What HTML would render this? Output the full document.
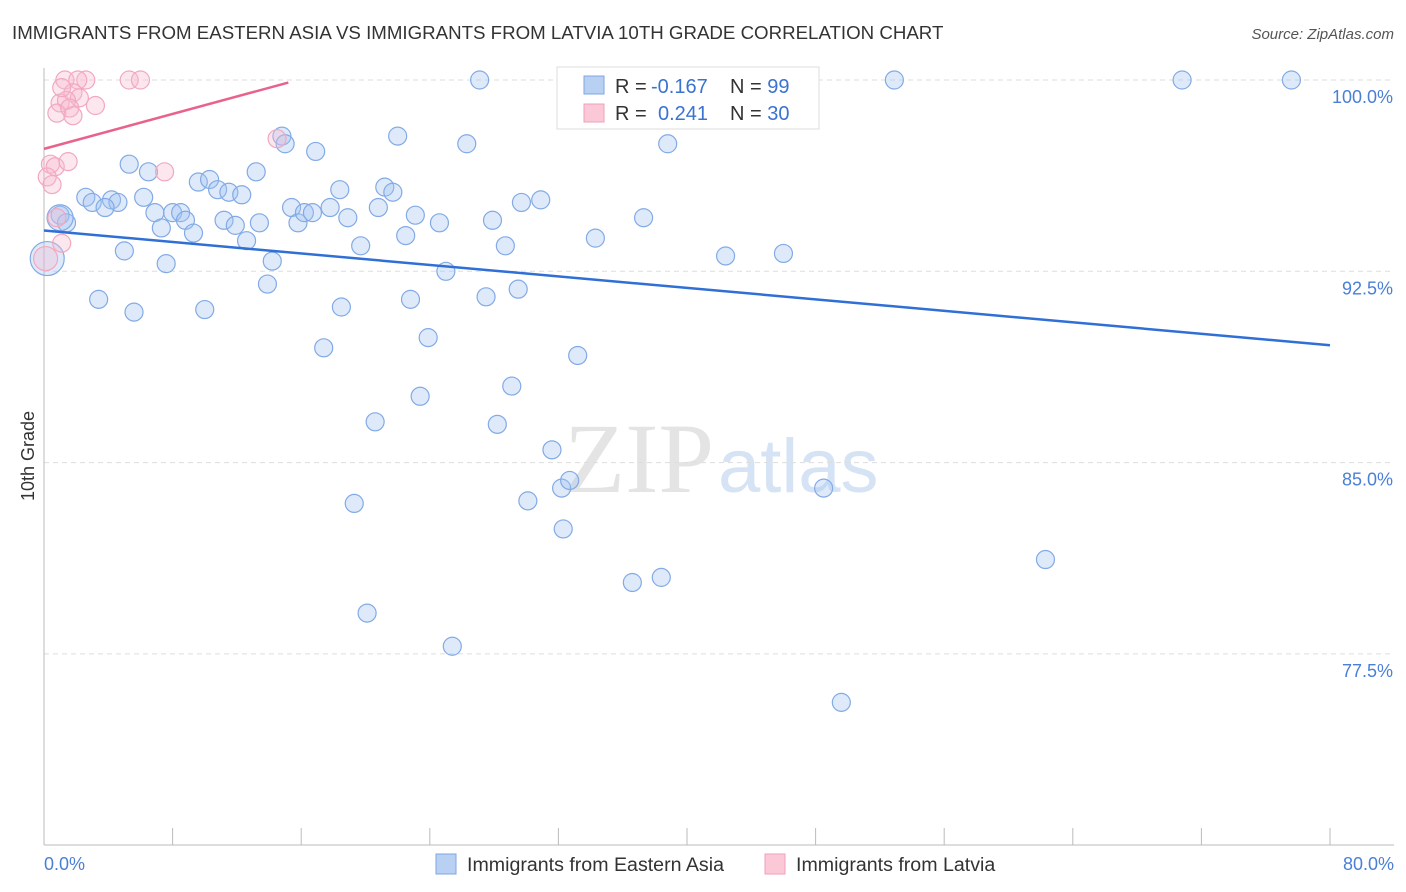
<!DOCTYPE html>
<html><head><meta charset="utf-8">
<style>
body{margin:0;background:#fff;font-family:"Liberation Sans",sans-serif;}
#wrap{position:relative;width:1406px;height:892px;overflow:hidden}
</style></head><body>
<div id="wrap">
<svg id="chart" width="1406" height="892">
<text x="12" y="39" font-size="18.7" fill="#333">IMMIGRANTS FROM EASTERN ASIA VS IMMIGRANTS FROM LATVIA 10TH GRADE CORRELATION CHART</text>
<text x="1394" y="39" font-size="15" fill="#555" font-style="italic" text-anchor="end">Source: ZipAtlas.com</text>
<text x="714" y="492" font-size="100" fill="#e4e4e4" text-anchor="end" font-family="Liberation Serif">ZIP</text>
<text x="718" y="492" font-size="76" fill="#d6e3f5">atlas</text>
<g id="grid"></g><g id="axes"></g><g id="pts"></g><g id="trend"></g>
<text transform="translate(34,456) rotate(-90)" font-size="18" fill="#333" text-anchor="middle">10th Grade</text>
<text x="44" y="870" font-size="18" fill="#4a7fd6">0.0%</text>
<text x="1394" y="870" font-size="18" fill="#4a7fd6" text-anchor="end">80.0%</text>
<g>
<rect x="557" y="67" width="262" height="62" fill="#fff" stroke="#ddd"/>
<rect x="584" y="76" width="20" height="18" fill="#b8d0f2" stroke="#7ea6e3"/>
<rect x="584" y="104" width="20" height="18" fill="#fac8d6" stroke="#f0a0b8"/>
<text x="615" y="93" font-size="20" fill="#333">R = <tspan x="651" fill="#3a73d0">-0.167</tspan><tspan x="730">N = </tspan><tspan fill="#3a73d0">99</tspan></text>
<text x="615" y="120" font-size="20" fill="#333">R = <tspan x="658" fill="#3a73d0">0.241</tspan><tspan x="730">N = </tspan><tspan fill="#3a73d0">30</tspan></text>
</g>
<g>
<rect x="436" y="854" width="20" height="20" fill="#b8d0f2" stroke="#7ea6e3"/>
<text x="467" y="871" font-size="19.6" fill="#333">Immigrants from Eastern Asia</text>
<rect x="765" y="854" width="20" height="20" fill="#fac8d6" stroke="#f0a0b8"/>
<text x="796" y="871" font-size="19.6" fill="#333">Immigrants from Latvia</text>
</g>
</svg>
</div>
<script>
const yTicks=[100,92.5,85,77.5];
const xTicks=[0,8,16,24,32,40,48,56,64,72,80];
const blueX=[1.0,1.4,2.6,3.0,4.2,4.6,3.8,5.3,6.5,6.2,6.9,7.3,8.0,8.5,8.8,9.3,9.6,10.3,10.8,11.5,12.3,11.2,11.9,12.6,13.2,13.4,5.0,3.4,5.6,7.6,10.0,13.9,14.2,14.8,15.0,16.9,15.4,15.8,16.2,16.7,17.8,18.4,18.9,19.7,20.8,21.2,21.7,22.0,22.5,23.1,24.6,25.0,26.3,27.1,27.9,28.7,29.7,30.9,29.5,27.5,22.8,23.9,18.5,17.4,23.4,29.1,33.2,20.6,28.2,31.6,30.1,19.3,32.3,32.2,32.7,36.6,38.4,20.1,25.4,34.3,37.3,38.8,42.4,46.0,37.8,43.1,52.9,70.8,77.6,48.5,62.3,49.6,34.1,0.2,1.0];
const blueY=[94.7,94.4,95.4,95.2,95.3,95.2,95.0,96.7,96.4,95.4,94.8,94.2,94.8,94.8,94.5,94.0,96.0,96.1,95.7,95.6,95.5,94.5,94.3,93.7,96.4,94.4,93.3,91.4,90.9,92.8,91.0,92.0,92.9,97.8,97.5,97.2,95.0,94.4,94.8,94.8,95.0,95.7,94.6,93.5,95.0,95.8,95.6,97.8,93.9,94.7,94.4,92.5,97.5,100.0,94.5,93.5,95.2,95.3,91.8,91.5,91.4,89.9,91.1,89.5,87.6,88.0,89.2,86.6,86.5,85.5,83.5,83.4,82.4,84.0,84.3,80.3,80.5,79.1,77.8,93.8,94.6,97.5,93.1,93.2,100.0,100.0,100.0,100.0,100.0,84.0,81.2,75.6,99.9,93.0,94.6];
const blueR=[9,9,9,9,9,9,9,9,9,9,9,9,9,9,9,9,9,9,9,9,9,9,9,9,9,9,9,9,9,9,9,9,9,9,9,9,9,9,9,9,9,9,9,9,9,9,9,9,9,9,9,9,9,9,9,9,9,9,9,9,9,9,9,9,9,9,9,9,9,9,9,9,9,9,9,9,9,9,9,9,9,9,9,9,9,9,9,9,9,9,9,9,9,17,13];
const pinkX=[1.3,2.6,2.1,5.3,6.0,1.0,1.8,2.2,1.4,0.8,1.6,1.8,3.2,1.1,0.4,0.7,1.5,0.2,0.5,1.1,7.5,14.5,0.1,0.8];
const pinkY=[100,100,100,100,100,99.1,99.5,99.3,99.2,98.7,98.9,98.6,99.0,99.7,96.7,96.6,96.8,96.2,95.9,93.6,96.4,97.7,93.0,94.6];
const pinkR=[9,9,9,9,9,9,9,9,9,9,9,9,9,9,9,9,9,9,9,9,9,9,12,9];
const blueTrend=[0,94.1,80,89.6];
const pinkTrend=[0,97.3,15.2,99.9];
const NS='http://www.w3.org/2000/svg';
function sx(v){return 44+v/80*1286;}
function sy(v){return 80+(100-v)/7.5*191.3;}
function mk(tag,attrs,parent){const e=document.createElementNS(NS,tag);for(const k in attrs)e.setAttribute(k,attrs[k]);document.getElementById(parent).appendChild(e);return e;}
yTicks.forEach(t=>{
 const l=mk('line',{x1:44,x2:1394,y1:sy(t),y2:sy(t),stroke:'#ddd','stroke-dasharray':'5,4'},'grid');
 
 
 const tx=mk('text',{x:1393,y:sy(t)+23,'font-size':18,fill:'#4a7fd6','text-anchor':'end'},'grid');
 tx.textContent=t.toFixed(1)+'%';
 
 
});
let ax=mk('line',{x1:44,x2:44,y1:68,y2:845,stroke:'#bbb'},'axes');


ax=mk('line',{x1:44,x2:1394,y1:845,y2:845,stroke:'#bbb'},'axes');


xTicks.forEach(t=>{
 const l=mk('line',{x1:sx(t),x2:sx(t),y1:828,y2:845,stroke:'#bbb'},'axes');
 
 
});
blueX.forEach((x,i)=>{
 const c=mk('circle',{cx:sx(x),cy:sy(blueY[i]),r:blueR[i],fill:'rgba(160,194,240,0.35)',stroke:'#82aae6','stroke-width':1.2},'pts');
 
 
});
pinkX.forEach((x,i)=>{
 const c=mk('circle',{cx:sx(x),cy:sy(pinkY[i]),r:pinkR[i],fill:'rgba(246,186,206,0.35)',stroke:'#f2a8bf','stroke-width':1.2},'pts');
 
 
});
let tl=mk('line',{x1:sx(blueTrend[0]),y1:sy(blueTrend[1]),x2:sx(blueTrend[2]),y2:sy(blueTrend[3]),stroke:'#2f6fd6','stroke-width':2.5},'trend');


tl=mk('line',{x1:sx(pinkTrend[0]),y1:sy(pinkTrend[1]),x2:sx(pinkTrend[2]),y2:sy(pinkTrend[3]),stroke:'#e9628c','stroke-width':2.5},'trend');


</script>
</body></html>
